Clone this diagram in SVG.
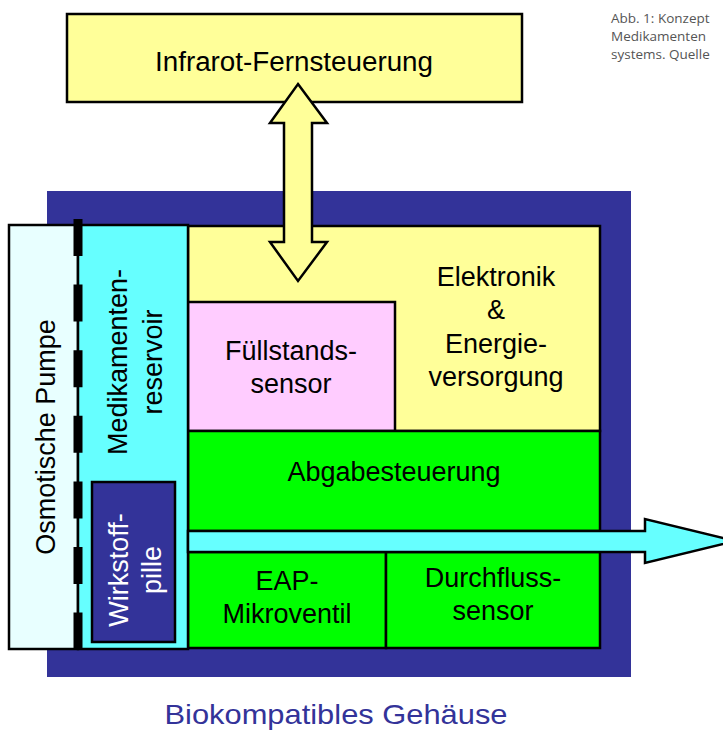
<svg xmlns="http://www.w3.org/2000/svg" width="723" height="731" viewBox="0 0 723 731">
<style>
.box{stroke:#000;stroke-width:2.5}
.t{font-family:"Liberation Sans",Arial,sans-serif;font-size:27px;fill:#000;text-anchor:middle}
.w{fill:#fff}
.cap{font-family:"Open Sans","Noto Sans",sans-serif;font-size:13.5px;fill:#555}
</style>
<rect width="723" height="731" fill="#fff"/>
<g id="caption">
<text class="cap" x="611" y="23">Abb. 1: Konzept</text>
<text class="cap" x="611" y="41">Medikamenten</text>
<text class="cap" x="611" y="59">systems. Quelle</text>
</g>
<g id="fernsteuerung">
<rect class="box" x="67" y="14" width="455" height="88" fill="#FFFF99"/>
<text class="t" x="294" y="71" textLength="278" lengthAdjust="spacingAndGlyphs">Infrarot-Fernsteuerung</text>
</g>
<g id="gehaeuse">
<rect x="47" y="191" width="584" height="486" fill="#333399"/>
<text x="336" y="724" font-family="Liberation Sans,Arial,sans-serif" font-size="28" fill="#333399" text-anchor="middle" textLength="343" lengthAdjust="spacingAndGlyphs">Biokompatibles Gehäuse</text>
</g>
<g id="elektronik">
<rect class="box" x="188" y="226" width="412" height="205" fill="#FFFF99"/>
<text class="t" x="496" y="286">Elektronik</text>
<text class="t" x="496" y="319">&amp;</text>
<text class="t" x="496" y="353">Energie-</text>
<text class="t" x="496" y="386">versorgung</text>
</g>
<g id="fuellstand">
<rect class="box" x="188" y="302" width="207" height="129" fill="#FFCCFF"/>
<text class="t" x="291" y="360">Füllstands-</text>
<text class="t" x="291" y="393">sensor</text>
</g>
<g id="abgabe">
<rect class="box" x="188" y="431" width="412" height="100" fill="#00FF00"/>
<text class="t" x="394" y="481">Abgabesteuerung</text>
</g>
<g id="eap">
<rect class="box" x="188" y="552" width="198" height="96" fill="#00FF00"/>
<text class="t" x="287" y="590">EAP-</text>
<text class="t" x="287" y="623">Mikroventil</text>
</g>
<g id="durchfluss">
<rect class="box" x="386" y="552" width="214" height="96" fill="#00FF00"/>
<text class="t" x="493" y="587">Durchfluss-</text>
<text class="t" x="493" y="620">sensor</text>
</g>
<g id="pumpe">
<rect class="box" x="9" y="225" width="69" height="424" fill="#E8FFFF"/>
<text class="t" transform="translate(55,437) rotate(-90)">Osmotische Pumpe</text>
</g>
<g id="reservoir">
<rect class="box" x="78" y="225" width="110" height="424" fill="#66FFFF"/>
<text class="t" transform="translate(127,362) rotate(-90)">Medikamenten-</text>
<text class="t" transform="translate(162,362) rotate(-90)">reservoir</text>
</g>
<g id="membran">
<line x1="78" y1="219" x2="78" y2="650" stroke="#000" stroke-width="2"/>
<line x1="78" y1="219" x2="78" y2="650" stroke="#000" stroke-width="9" stroke-dasharray="37 28.6"/>
</g>
<g id="pille">
<rect class="box" x="92" y="482" width="83" height="160" fill="#333399"/>
<text class="t w" transform="translate(128,570) rotate(-90)">Wirkstoff-</text>
<text class="t w" transform="translate(161,570) rotate(-90)">pille</text>
</g>
<g id="connectors">
<polygon class="box" fill="#FFFF99" points="298,84 327,123 312,123 312,242 327,242 298,281 270,242 284,242 284,123 270,123"/>
<polygon class="box" fill="#66FFFF" points="188,531 645,531 645,519 735,541 645,563 645,552 188,552"/>
</g>
</svg>
